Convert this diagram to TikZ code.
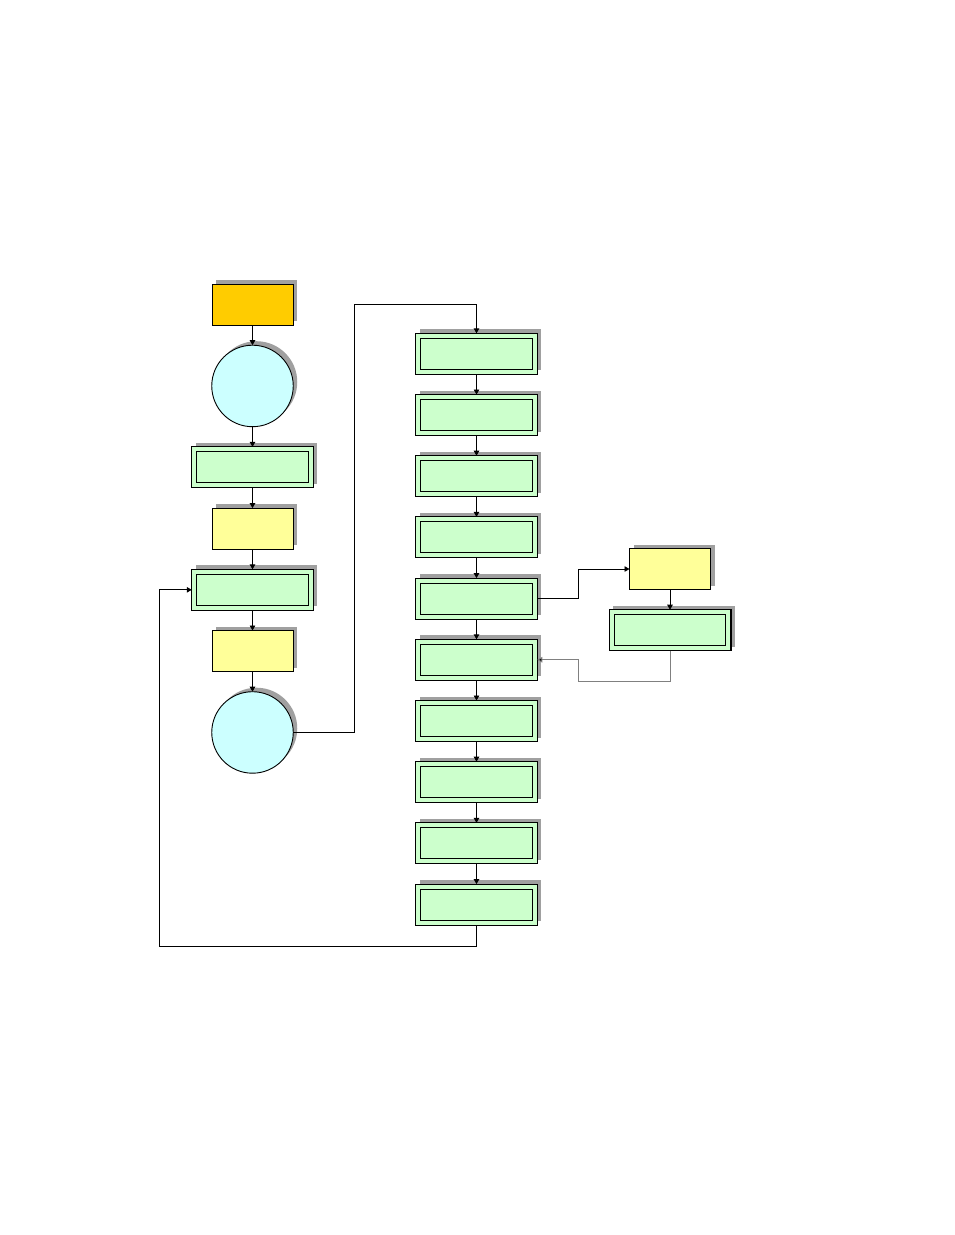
\documentclass[tikz,border=0pt]{standalone}
\usepackage{tikz}
\usetikzlibrary{positioning,arrows.meta,calc,shadows}
\definecolor{amber}{HTML}{FFCC00}
\definecolor{aqua}{HTML}{CCFFFF}
\definecolor{pista}{HTML}{CCFFCC}
\definecolor{lemon}{HTML}{FFFF99}
\definecolor{shade}{HTML}{A0A0A0}
\definecolor{return}{HTML}{808080}
\tikzset{
  boxshadow/.style={general shadow={fill=shade, draw=none, shadow xshift=4pt, shadow yshift=4pt}},
  startbox/.style={draw=black, line width=0.9pt, fill=amber, minimum width=81pt, minimum height=41pt, inner sep=0pt, outer sep=0pt, boxshadow},
  roundnode/.style={circle, draw=black, line width=0.9pt, fill=aqua, minimum size=81.5pt, inner sep=0pt, outer sep=0pt, boxshadow},
  stepbox/.style={draw=black, line width=0.9pt, fill=pista, minimum width=121.5pt, minimum height=41pt, inner sep=0pt, outer sep=0pt, boxshadow,
    path picture={\draw[line width=0.9pt] ([shift={(5pt,-5pt)}]path picture bounding box.north west) rectangle ([shift={(-5pt,5pt)}]path picture bounding box.south east);}},
  notebox/.style={draw=black, line width=0.9pt, fill=lemon, minimum width=81pt, minimum height=41pt, inner sep=0pt, outer sep=0pt, boxshadow},
  flowarrow/.style={-{Triangle[length=5pt,width=5.5pt]}, line width=0.9pt, draw=black},
  backarrow/.style={-{Triangle[length=5pt,width=5.5pt,fill=black]}, line width=0.9pt, draw=return}
}
\begin{document}
\begin{tikzpicture}[x=1pt, y=1pt, node distance=20.2pt]
  \useasboundingbox (0,0) rectangle (954,-1235);
  % left column
  \node[startbox] (start) at (252.5,-304.5) {};
  \node[roundnode, below=of start] (circA) {};
  \node[stepbox, below=of circA] (prepA) {};
  \node[notebox, below=of prepA] (noteA) {};
  \node[stepbox, below=of noteA] (prepB) {};
  \node[notebox, below=of prepB] (noteB) {};
  \node[roundnode, below=of noteB] (circB) {};
  % right column
  \node[stepbox] (r1) at (476.5,-353.8) {};
  \node[stepbox, below=of r1] (r2) {};
  \node[stepbox, below=of r2] (r3) {};
  \node[stepbox, below=of r3] (r4) {};
  \node[stepbox, below=of r4] (r5) {};
  \node[stepbox, below=of r5] (r6) {};
  \node[stepbox, below=of r6] (r7) {};
  \node[stepbox, below=of r7] (r8) {};
  \node[stepbox, below=of r8] (r9) {};
  \node[stepbox, below=of r9] (r10) {};
  % side branch
  \node[notebox] (sidenote) at (670,-569) {};
  \node[stepbox, below=of sidenote, line width=1.5pt] (sidestep) {};
  \draw[flowarrow] (start) -- (circA);
  \draw[flowarrow] (circA) -- (prepA);
  \draw[flowarrow] (prepA) -- (noteA);
  \draw[flowarrow] (noteA) -- (prepB);
  \draw[flowarrow] (prepB) -- (noteB);
  \draw[flowarrow] (noteB) -- (circB);
  \draw[flowarrow] (circB.east) -- ++(61pt,0) |- ([yshift=29pt]r1.north) -- (r1.north);
  \draw[flowarrow] (r1) -- (r2);
  \draw[flowarrow] (r2) -- (r3);
  \draw[flowarrow] (r3) -- (r4);
  \draw[flowarrow] (r4) -- (r5);
  \draw[flowarrow] (r5) -- (r6);
  \draw[flowarrow] (r6) -- (r7);
  \draw[flowarrow] (r7) -- (r8);
  \draw[flowarrow] (r8) -- (r9);
  \draw[flowarrow] (r9) -- (r10);
  \draw[flowarrow] (r5.east) -- ++(41pt,0) |- (sidenote.west);
  \draw[flowarrow] (sidenote) -- (sidestep);
  \draw[backarrow] (sidestep.south) -- ++(0,-31pt) -| ([xshift=41pt]r6.east) -- (r6.east);
  \draw[flowarrow] (r10.south) -- ++(0,-21pt) -| ([xshift=-32pt]prepB.west) -- (prepB.west);
\end{tikzpicture}
\end{document}
